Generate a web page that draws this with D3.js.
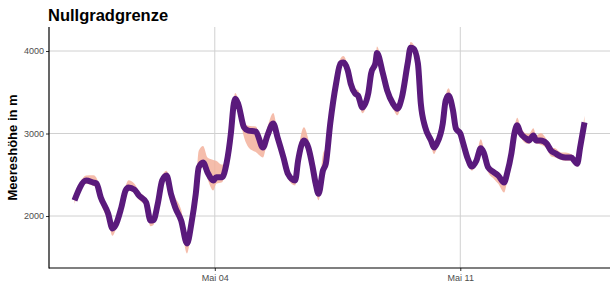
<!DOCTYPE html>
<html>
<head>
<meta charset="utf-8">
<script src="https://cdn.jsdelivr.net/npm/d3@7"></script>
<style>
  html, body { margin: 0; padding: 0; background: #fff; }
  svg { display: block; font-family: "Liberation Sans", Arial, sans-serif; }
</style>
</head>
<body>
<svg id="chart" width="616" height="308"></svg>
<script>
// ---- data ----
const startTime = "2024-04-30T00:00:00";
// hours since start
const hours = [0,8,13,15,18,23,26,28,32,35,37,41,44,49,52,54,57,60,63,66,69,73,77,80,83,85,88,91,95,97,101,104,107,109,110,112,116,119,124,129,132,136,139,143,146,151,153,157,160,163,165,167,170,172,175,179,182,184,187,189,192,194,197,201,203,206,207,211,214,218,221,224,228,230,232,235,237,240,244,246,248,252,254,256,259,261,264,266,269,272,275,278,280,283,287,290,294,296,299,301,303,305,309,311,314,316,319,323,326,329,333,336,340,342,344,346,349];
// freezing level (m)
const values = [2190,2430,2405,2395,2225,2030,1850,1885,2100,2310,2345,2320,2250,2165,1945,1950,2150,2430,2490,2270,2100,1945,1667,1910,2270,2590,2650,2530,2430,2470,2470,2635,3000,3360,3420,3360,3075,3035,3025,2830,2975,3120,2950,2710,2515,2430,2670,2915,2830,2590,2395,2270,2550,2635,3120,3605,3850,3860,3765,3605,3485,3460,3315,3485,3730,3860,3975,3730,3520,3360,3300,3435,3850,4040,4030,3850,3360,3075,2915,2830,2880,3120,3400,3460,3280,3060,3000,2880,2700,2600,2670,2820,2770,2590,2530,2490,2405,2515,2760,3000,3100,3010,2940,2915,2975,2915,2915,2880,2795,2760,2720,2710,2710,2670,2635,2830,3135];
// band extent above / below the line (m)
const spreadUp = [50,60,90,70,60,60,50,40,50,60,90,70,50,40,40,40,60,60,60,60,120,130,60,40,80,200,200,180,250,200,150,80,60,60,70,60,60,60,60,60,100,130,60,40,40,40,100,160,100,60,60,60,200,200,100,80,60,80,50,40,50,70,40,40,50,60,80,40,40,40,40,40,50,70,50,40,40,40,40,40,40,50,60,90,40,40,50,40,40,40,60,110,60,40,40,40,40,40,40,60,90,80,60,80,90,60,90,50,40,60,50,60,40,40,40,40,80];
const spreadDown = [40,40,40,40,70,90,90,60,40,40,40,40,50,50,70,60,40,40,40,40,40,50,120,80,40,40,60,80,120,80,60,40,40,40,40,50,120,200,250,120,60,40,60,80,60,60,40,40,50,60,80,80,40,40,40,40,40,40,40,40,40,60,70,40,40,40,40,40,40,60,80,40,40,40,40,40,40,40,70,80,60,40,40,40,40,40,40,40,50,50,40,40,40,60,80,100,120,100,40,40,40,40,60,40,40,40,50,60,70,50,40,40,40,40,40,40,40];
const yTicks = [2000, 3000, 4000];
const xTickDates = ["2024-05-04T00:00:00", "2024-05-11T00:00:00"];
const xTickLabels = ["Mai 04", "Mai 11"];
const titleText = "Nullgradgrenze";
const yLabel = "Meereshöhe in m";

// ---- build ----
const t0 = new Date(startTime);
const data = hours.map((h, i) => ({
  t: new Date(t0.getTime() + h * 3600e3),
  v: values[i],
  hi: values[i] + spreadUp[i],
  lo: values[i] - spreadDown[i]
}));

const svg = d3.select("#chart");
const L = 49, R = 610, T = 27, B = 268;

const ext = d3.extent(data, d => d.t);
const pad = (ext[1] - ext[0]) * 0.05;
const x = d3.scaleTime()
  .domain([new Date(+ext[0] - pad), new Date(+ext[1] + pad)])
  .range([L, R]);
const y = d3.scaleLinear().domain([1370, 4291]).range([B, T]);

// grid
const g = svg.append("g");
g.selectAll("line.hg").data(yTicks).join("line")
  .attr("x1", L).attr("x2", R)
  .attr("y1", d => y(d)).attr("y2", d => y(d))
  .attr("stroke", "#d0d0d0").attr("stroke-width", 1);
const xTicks = xTickDates.map(s => new Date(s));
g.selectAll("line.vg").data(xTicks).join("line")
  .attr("x1", d => x(d)).attr("x2", d => x(d))
  .attr("y1", T).attr("y2", B)
  .attr("stroke", "#d0d0d0").attr("stroke-width", 1);

// band
const area = d3.area()
  .x(d => x(d.t)).y0(d => y(d.lo)).y1(d => y(d.hi))
  .curve(d3.curveMonotoneX);
svg.append("path").datum(data)
  .attr("d", area)
  .attr("fill", "#f3b29c").attr("opacity", 0.85);

// line
const line = d3.line().x(d => x(d.t)).y(d => y(d.v)).curve(d3.curveMonotoneX);
svg.append("path").datum(data)
  .attr("d", line)
  .attr("fill", "none")
  .attr("stroke", "#5a1a7c")
  .attr("stroke-width", 6)
  .attr("stroke-linejoin", "round")
  .attr("stroke-linecap", "butt");

// axes
const yAxis = d3.axisLeft(y).tickValues(yTicks).tickSize(3).tickPadding(2)
  .tickFormat(d3.format("d"));
const ya = svg.append("g").attr("transform", `translate(${L},0)`).call(yAxis);
const xAxis = d3.axisBottom(x).tickValues(xTicks).tickSize(3).tickPadding(4)
  .tickFormat((d, i) => xTickLabels[i]);
const xa = svg.append("g").attr("transform", `translate(0,${B})`).call(xAxis);
[ya, xa].forEach(a => {
  a.select(".domain").remove();
  a.selectAll(".tick line").attr("stroke", "#333").attr("stroke-width", 1);
  a.selectAll(".tick text").attr("fill", "#4d4d4d")
    .style("font-size", "9px").style("font-family", "'Liberation Sans', Arial, sans-serif");
});
// axis lines
svg.append("line").attr("x1", L).attr("x2", L).attr("y1", T).attr("y2", B + 0.5)
  .attr("stroke", "#000").attr("stroke-width", 1.2);
svg.append("line").attr("x1", L).attr("x2", R).attr("y1", B).attr("y2", B)
  .attr("stroke", "#000").attr("stroke-width", 1.2);

// title
svg.append("text").attr("x", L - 1).attr("y", 21)
  .attr("font-size", 16.5).attr("font-weight", "bold").attr("fill", "#000")
  .text(titleText);
// y label
svg.append("text")
  .attr("transform", `translate(17,${(T + B) / 2}) rotate(-90)`)
  .attr("text-anchor", "middle")
  .attr("font-size", 13).attr("font-weight", "bold").attr("fill", "#000")
  .text(yLabel);
</script>
</body>
</html>
